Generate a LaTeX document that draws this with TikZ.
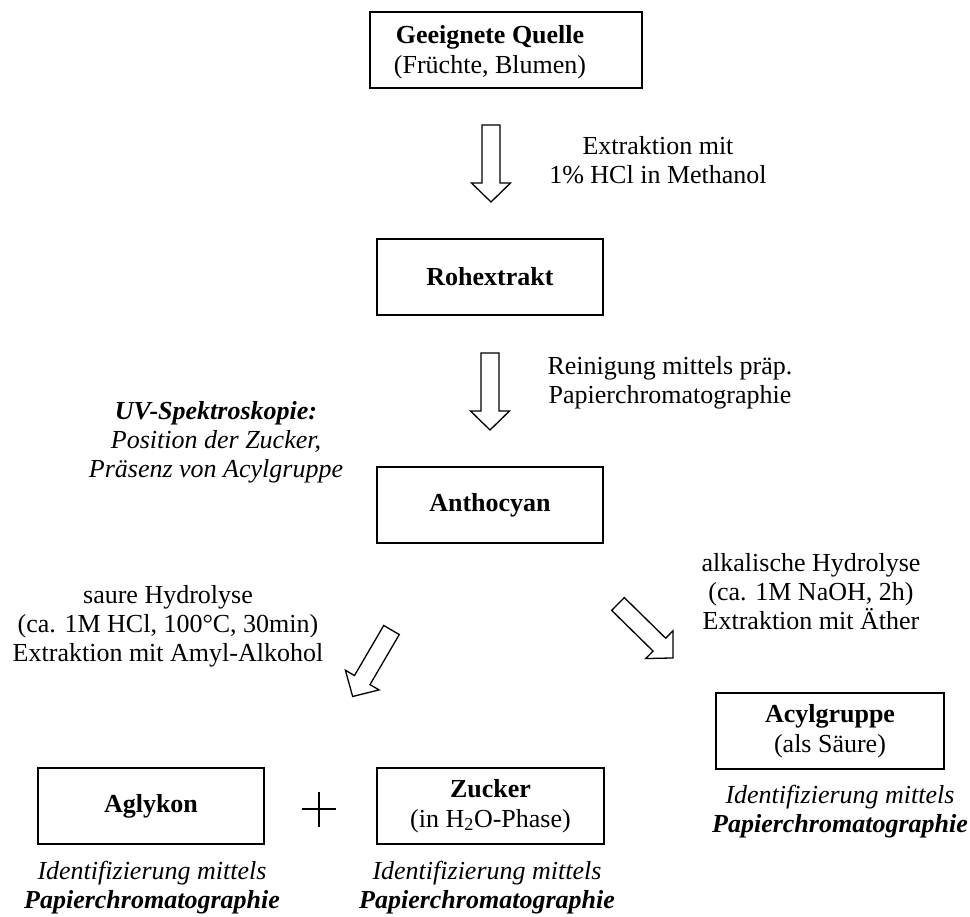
\documentclass[tikz,border=0pt]{standalone}
\usepackage{fontspec}
\setmainfont{Liberation Serif}
\begin{document}
\begin{tikzpicture}[x=1pt,y=1pt,
  box/.style={draw, line width=1.6pt, inner sep=0pt, minimum height=76pt, align=center,
    font=\fontsize{26}{30}\selectfont},
  txt/.style={inner sep=0pt, align=center, font=\fontsize{26}{30}\selectfont},
  lbl/.style={inner sep=0pt, align=center, font=\fontsize{26}{29}\selectfont},
  ilbl/.style={inner sep=0pt, align=center, font=\fontsize{26}{29}\selectfont\itshape},
  harrow/.style={draw, line width=1.3pt, fill=white, line join=miter}]
\useasboundingbox (0,0) rectangle (970,-917);

% boxes
\node[box, minimum width=272pt] (quelle) at (506,-50) {};
\node[txt] (quelletxt) at (490,-52) {\textbf{Geeignete Quelle}\\(Früchte, Blumen)};
\node[box, minimum width=226pt] (roh) at (490,-277) {\textbf{Rohextrakt}};
\node[box, minimum width=226pt] (antho) at (490,-505) {\textbf{Anthocyan}};
\node[box, minimum width=226pt] (agly) at (151,-806) {\textbf{Aglykon}};
\node[box, minimum width=227pt] (zucker) at (490.5,-806) {\textbf{Zucker}\\(in H\textsubscript{2}O-Phase)};
\node[box, minimum width=228pt] (acyl) at (830,-731) {\textbf{Acylgruppe}\\(als Säure)};

% labels
\node[lbl] (l1) at (658,-160) {Extraktion mit\\1\% HCl in Methanol};
\node[lbl] (l2) at (670,-383) {Reinigung mittels präp.\\Papierchromatographie};
\node[ilbl] (uv) at (216,-442) {\textbf{UV-Spektroskopie:}\\Position der Zucker,\\Präsenz von Acylgruppe};
\node[lbl] (lleft) at (168,-626) {saure Hydrolyse\\(ca. 1M HCl, 100°C, 30min)\\Extraktion mit Amyl-Alkohol};
\node[lbl] (lright) at (811,-592) {alkalische Hydrolyse\\(ca. 1M NaOH, 2h)\\Extraktion mit Äther};
\node[ilbl] (id1) at (152,-888) {Identifizierung mittels\\\textbf{Papierchromatographie}};
\node[ilbl] (id2) at (487,-888) {Identifizierung mittels\\\textbf{Papierchromatographie}};
\node[ilbl] (id3) at (840,-812) {Identifizierung mittels\\\textbf{Papierchromatographie}};

% hollow block arrows (tail coordinates)
\coordinate (a1) at (491,-125);
\coordinate (a2) at (490,-353);
\coordinate (a3) at (391.5,-630);
\coordinate (a4) at (618,-604);
\newcommand\blockarrow[2]{%
  \begin{scope}[shift={(#1)}, rotate=#2]
    \path[harrow] (0,-9) -- (58,-9) -- (58,-19.5) -- (77,0) -- (58,19.5) -- (58,9) -- (0,9) -- cycle;
  \end{scope}}
\blockarrow{a1}{-90}
\blockarrow{a2}{-90}
\blockarrow{a3}{-120.3}
\blockarrow{a4}{-44.5}

% plus sign
\coordinate (plus) at (319,-809);
\draw[line width=1.3pt] ([xshift=-17pt]plus) -- ([xshift=17pt]plus);
\draw[line width=1.3pt] ([yshift=-17.5pt]plus) -- ([yshift=17.5pt]plus);
\end{tikzpicture}
\end{document}
